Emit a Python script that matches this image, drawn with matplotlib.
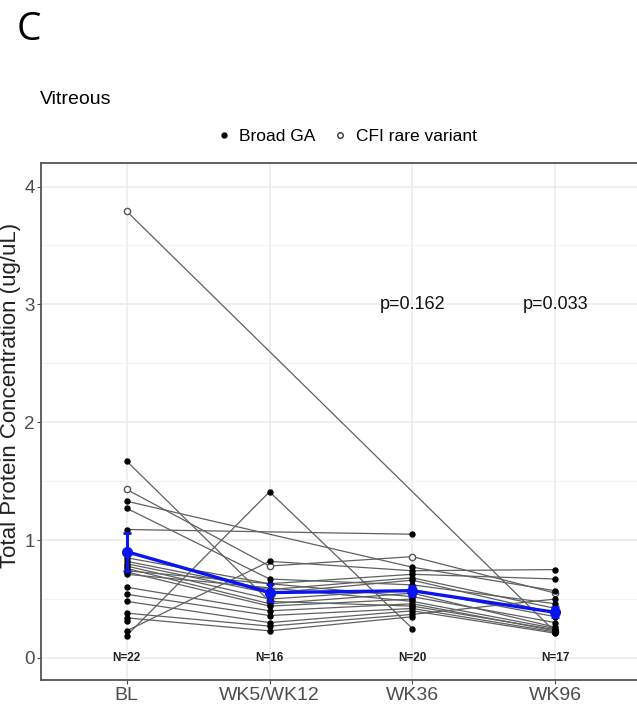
import numpy as np
import matplotlib
matplotlib.use("Agg")
import matplotlib.pyplot as plt
from matplotlib.lines import Line2D

plt.rcParams['font.family'] = ['Liberation Sans', 'DejaVu Sans']

timepoints = ['BL', 'WK5/WK12', 'WK36', 'WK96']
n_labels = ['N=22', 'N=16', 'N=20', 'N=17']
p_labels = ['', '', 'p=0.162', 'p=0.033']

nan = np.nan
# one row per subject: BL, WK5/WK12, WK36, WK96 (ug/uL)
subjects = [
    [3.79, nan, nan, 0.22],
    [1.67, 0.48, 0.44, 0.24],
    [1.43, 0.78, 0.86, 0.55],
    [1.33, nan, 0.77, 0.57],
    [1.27, 0.67, 0.62, 0.46],
    [1.09, nan, 1.05, nan],
    [0.19, 1.41, 0.25, nan],
    [0.23, 0.82, 0.74, 0.75],
    [0.85, 0.63, 0.71, 0.67],
    [0.82, 0.58, 0.68, 0.42],
    [0.80, 0.55, 0.66, 0.38],
    [0.78, 0.50, 0.58, 0.35],
    [0.76, 0.46, 0.55, 0.26],
    [0.74, nan, 0.52, 0.30],
    [0.73, 0.44, 0.50, nan],
    [0.71, nan, 0.48, 0.25],
    [0.60, 0.40, 0.46, 0.23],
    [0.54, 0.36, 0.42, 0.22],
    [0.48, 0.30, 0.40, 0.21],
    [0.38, 0.27, 0.37, 0.50],
    [0.34, 0.23, 0.35, nan],
    [0.31, nan, nan, nan],
]
# subjects carrying the CFI rare variant
cfi_rare = [0, 2]

data = np.array(subjects)
xpos = np.arange(1, len(timepoints) + 1)

fig = plt.figure(figsize=(6.37, 7.07), dpi=100)
ax = fig.add_axes([41/637, 1 - 680/707, 600/637, 517/707])

for i, row in enumerate(data):
    ok = ~np.isnan(row)
    ax.plot(xpos[ok], row[ok], color='#606060', lw=0.9, zorder=2)
for i, row in enumerate(data):
    ok = ~np.isnan(row)
    if i in cfi_rare:
        ax.plot(xpos[ok], row[ok], 'o', ms=4.5, mfc='white', mec='#555555', mew=1.0, ls='none', zorder=3)
    else:
        ax.plot(xpos[ok], row[ok], 'o', ms=3.6, color='black', ls='none', zorder=3)

means = np.nanmean(data, axis=0)
counts = np.sum(~np.isnan(data), axis=0)
se = np.nanstd(data, axis=0, ddof=1) / np.sqrt(counts)
ax.errorbar(xpos, means, yerr=se, color='#0a14f0', lw=2.4, marker='o', ms=7,
            elinewidth=2.2, capsize=3, capthick=2, zorder=4)

for x, lab in zip(xpos, n_labels):
    ax.text(x, 0.0, lab, ha='center', va='center', fontsize=8.5, fontweight='bold', color='#222222')
for x, lab in zip(xpos, p_labels):
    if lab:
        ax.text(x, 3.0, lab, ha='center', va='center', fontsize=13, color='#111111')

ax.set_xlim(0.4, 4.6)
ax.set_ylim(-0.187, 4.2)
ax.set_xticks(xpos)
ax.set_xticklabels(timepoints)
ax.set_yticks([0, 1, 2, 3, 4])
ax.set_yticks([0.5, 1.5, 2.5, 3.5], minor=True)
ax.tick_params(axis='both', which='major', labelsize=14, colors='#4d4d4d', length=3, width=0.8, pad=2)
ax.tick_params(axis='y', which='major', labelsize=13.5, pad=1.5)
ax.tick_params(axis='y', which='minor', length=0)
ax.grid(True, which='major', color='#ebebeb', lw=1.1, zorder=0)
ax.grid(True, which='minor', axis='y', color='#f3f3f3', lw=0.7, zorder=0)
ax.set_axisbelow(True)
for s in ax.spines.values():
    s.set_color('#555555')
    s.set_linewidth(1.3)

fig.text(17/637, 1 - 40/707, 'C', fontsize=28, family=['Open Sans', 'DejaVu Sans'], va='baseline')
fig.text(40/637, 1 - 100/707, 'Vitreous', fontsize=14, va='center')
fig.text(11/637, 1 - 395/707, 'Total Protein Concentration (ug/uL)', fontsize=16,
         rotation=90, ha='center', va='center', color='#222222')

handles = [Line2D([], [], marker='o', ls='none', color='black', ms=3.5),
           Line2D([], [], marker='o', ls='none', mfc='white', mec='#333333', ms=4)]
fig.legend(handles, ['Broad GA', 'CFI rare variant'], loc='center', ncol=2, frameon=False,
           bbox_to_anchor=(345/637, 1 - 136/707), fontsize=12.5, handletextpad=0.3,
           columnspacing=0.8, handlelength=1.2)

fig.savefig('out.png', dpi=100)
